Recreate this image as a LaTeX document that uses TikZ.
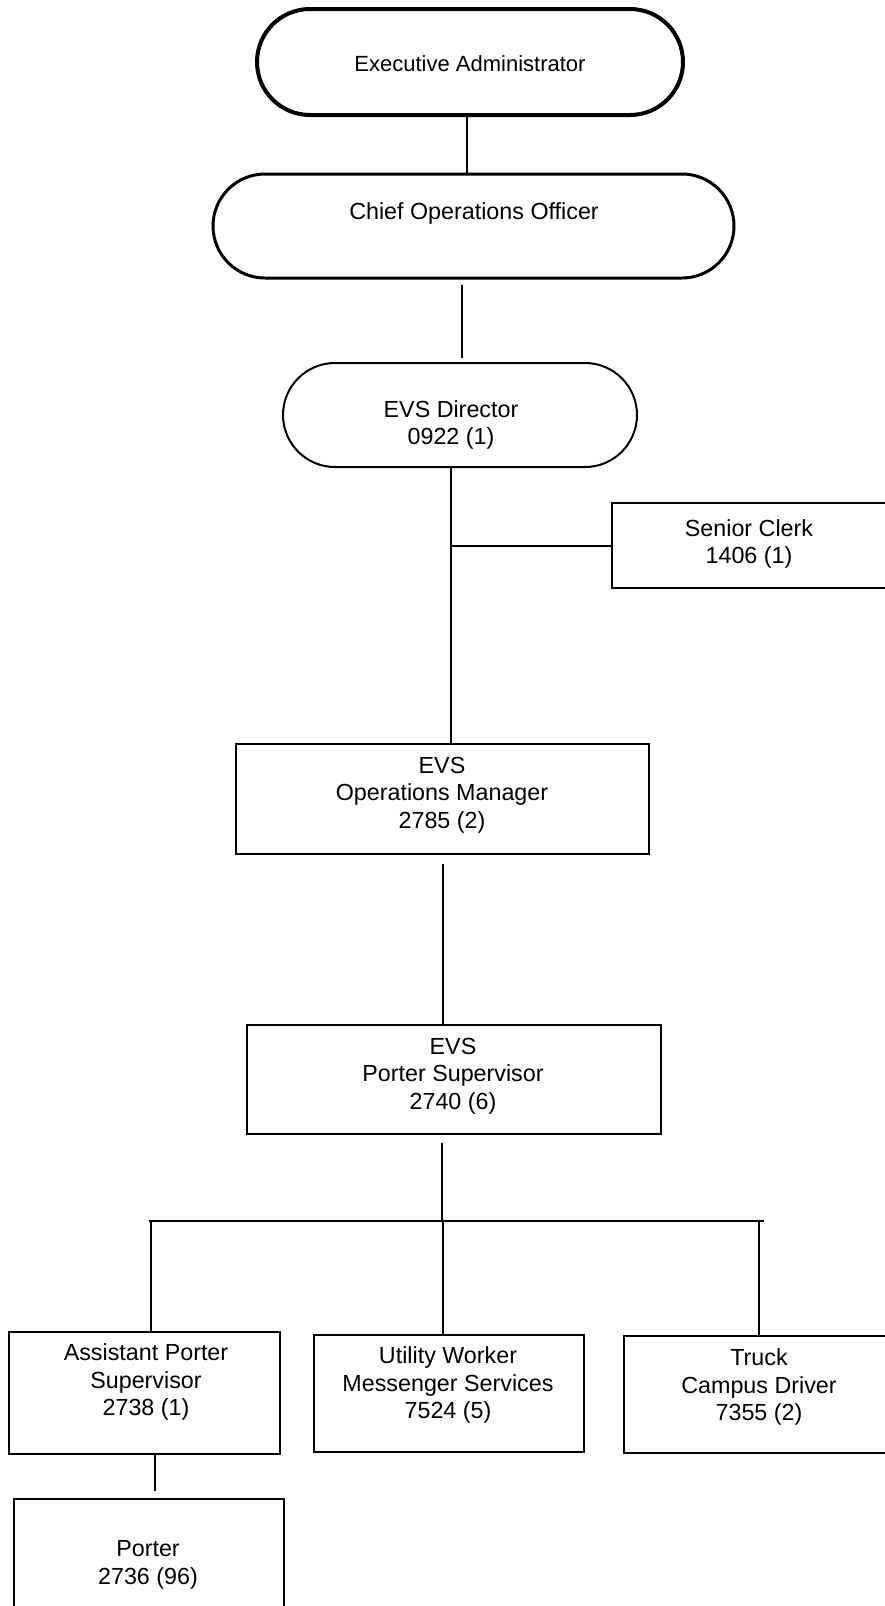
\documentclass[tikz,border=0pt]{standalone}
\usepackage{fontspec}
\setmainfont{Liberation Sans}
\usetikzlibrary{calc}
\begin{document}
\begin{tikzpicture}[x=1pt,y=-1pt,
  box/.style={draw=black, rectangle, line width=2pt, inner sep=0pt},
  oval/.style={box, rounded corners=52pt},
  txt/.style={align=center, inner sep=0pt, font=\fontsize{23.3}{27.5}\selectfont},
  conn/.style={line width=1.6pt},
  busline/.style={line width=2.4pt}]
\useasboundingbox (0,0) rectangle (885,1606);
\clip (0,0) rectangle (885,1606);
\fill[white] (0,0) rectangle (885,1606);

% boxes
\node[oval, line width=4pt, minimum width=426pt, minimum height=106pt, rounded corners=53pt] (ea) at (470,62) {};
\node[oval, line width=3pt, minimum width=521pt, minimum height=104pt] (coo) at (473.5,226) {};
\node[oval, line width=2pt, minimum width=354pt, minimum height=104pt] (dir) at (460,415) {};
\node[box, minimum width=283pt, minimum height=85pt] (clerk) at (753.5,545.5) {};
\node[box, minimum width=413pt, minimum height=110pt] (om) at (442,798.5) {};
\node[box, minimum width=414pt, minimum height=109pt] (ps) at (453.5,1079) {};
\node[box, minimum width=271pt, minimum height=122pt] (aps) at (144,1392.5) {};
\node[box, minimum width=270pt, minimum height=117pt] (uw) at (448.5,1393) {};
\node[box, minimum width=276pt, minimum height=117pt] (tr) at (762,1394.5) {};
\node[box, minimum width=270pt, minimum height=141pt] (porter) at (148.5,1569.5) {};

% texts
\node[txt, font=\fontsize{22}{27}\selectfont] (eat) at (470,64) {Executive Administrator};
\node[txt] (coot) at (474,213) {Chief Operations Officer};
\node[txt] (dirt) at (451,425) {EVS Director\\0922 (1)};
\node[txt] (clerkt) at (749,544) {Senior Clerk\\1406 (1)};
\node[txt] (omt) at (442,795) {EVS\\Operations Manager\\2785 (2)};
\node[txt] (pst) at (453,1076) {EVS\\Porter Supervisor\\2740 (6)};
\node[txt] (apst) at (146,1382) {Assistant Porter\\Supervisor\\2738 (1)};
\node[txt] (uwt) at (448,1385) {Utility Worker\\Messenger Services\\7524 (5)};
\node[txt] (trt) at (759,1387) {Truck\\Campus Driver\\7355 (2)};
\node[txt] (portert) at (148,1565) {Porter\\2736 (96)};

% connectors
\draw[conn] ([xshift=-3pt]ea.south) -- ([xshift=-6.5pt]coo.north);
\draw[conn] ([xshift=-11.5pt,yshift=-5pt]coo.south) -- ([xshift=2pt,yshift=4pt]dir.north);
\draw[conn] ([xshift=-9pt]dir.south) -- ([xshift=9pt]om.north);
\coordinate (cj) at (451,546);
\draw[conn] (cj) -- (cj -| clerk.west);
\draw[conn] ([xshift=1pt,yshift=-9pt]om.south) -- ([xshift=-10.5pt]ps.north);
\coordinate (busm) at (442,1221);
\coordinate (busl) at (149,1221);
\coordinate (busr) at (764,1221);
\draw[conn] ([xshift=-11.5pt,yshift=-8pt]ps.south) -- (busm);
\draw[busline] (busl) -- (busr);
\path ($(aps.north)+(7,0)$) coordinate (a1);
\path ($(uw.north)+(-5.5,0)$) coordinate (u1);
\path ($(tr.north)+(-3,0)$) coordinate (t1);
\draw[conn] (a1 |- busl) -- (a1);
\draw[conn] (u1 |- busl) -- (u1);
\draw[busline] (t1 |- busl) -- (t1);
\draw[conn] ([xshift=11pt]aps.south) -- ([xshift=6.5pt,yshift=7pt]porter.north);
\end{tikzpicture}
\end{document}
